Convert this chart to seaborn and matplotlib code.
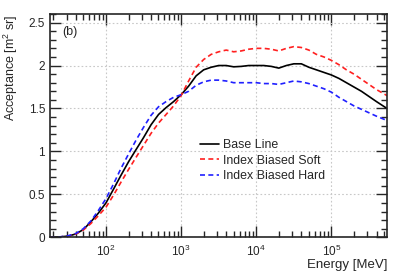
import matplotlib
matplotlib.use("Agg")
import matplotlib.pyplot as plt
import matplotlib.ticker as mticker
import seaborn as sns

# energies [MeV]
energy = [18, 25, 32, 40, 50, 63, 79, 100, 126, 158, 200, 251, 316, 398, 501,
          631, 794, 1000, 1259, 1585, 1995, 2512, 3162, 3981, 5012, 6310, 7943,
          10000, 12589, 15849, 19953, 25119, 31623, 39811, 50119, 63096, 79433,
          100000, 125893, 158489, 199526, 251189, 316228, 398107, 549541]

base_line = [0.0, 0.005, 0.015, 0.04, 0.09, 0.18, 0.28, 0.40, 0.56, 0.72, 0.88,
             1.02, 1.16, 1.31, 1.43, 1.51, 1.58, 1.66, 1.76, 1.88, 1.95, 1.98,
             2.00, 2.00, 1.985, 1.99, 2.00, 2.00, 2.00, 1.99, 1.97, 2.00, 2.02,
             2.02, 1.98, 1.95, 1.92, 1.89, 1.85, 1.80, 1.75, 1.70, 1.64, 1.58, 1.50]

biased_soft = [0.0, 0.005, 0.015, 0.04, 0.085, 0.16, 0.25, 0.35, 0.49, 0.64, 0.79,
               0.93, 1.07, 1.21, 1.33, 1.43, 1.53, 1.65, 1.82, 1.98, 2.07, 2.13,
               2.16, 2.18, 2.16, 2.17, 2.19, 2.20, 2.20, 2.19, 2.17, 2.20, 2.22,
               2.21, 2.18, 2.13, 2.10, 2.06, 2.01, 1.95, 1.90, 1.84, 1.78, 1.72, 1.65]

biased_hard = [0.0, 0.006, 0.02, 0.045, 0.10, 0.19, 0.31, 0.45, 0.62, 0.80, 0.97,
               1.13, 1.28, 1.42, 1.52, 1.58, 1.63, 1.66, 1.70, 1.77, 1.81, 1.83,
               1.83, 1.82, 1.80, 1.80, 1.80, 1.80, 1.79, 1.79, 1.78, 1.80, 1.82,
               1.81, 1.79, 1.76, 1.73, 1.69, 1.63, 1.58, 1.53, 1.49, 1.45, 1.41, 1.36]

sns.set_style("ticks")
plt.rcParams['font.family'] = ['Liberation Sans', 'DejaVu Sans']
plt.rcParams['mathtext.fontset'] = 'custom'
plt.rcParams['mathtext.rm'] = 'Liberation Sans'
plt.rcParams['mathtext.it'] = 'Liberation Sans:italic'

fig = plt.figure(figsize=(3.99, 2.73), dpi=100)
ax = fig.add_axes([0.1253, 0.1308, 0.8447, 0.8179])

# grid first so curves sit on top
ax.grid(True, which='major', color='#c8c8c8', linestyle=(0, (1.5, 2)), linewidth=0.8)

sns.lineplot(x=energy, y=base_line, color='black', linewidth=1.2, label='Base Line', ax=ax)
sns.lineplot(x=energy, y=biased_soft, color='#ff2020', linewidth=1.2,
             linestyle=(0, (3, 2)), label='Index Biased Soft', ax=ax)
sns.lineplot(x=energy, y=biased_hard, color='#2020ff', linewidth=1.2,
             linestyle=(0, (3, 2)), label='Index Biased Hard', ax=ax)

ax.set_xscale('log')
ax.set_xlim(18, 5.5e5)
ax.set_ylim(0, 2.6)

ax.yaxis.set_major_locator(mticker.MultipleLocator(0.5))
ax.yaxis.set_minor_locator(mticker.MultipleLocator(0.1))
ax.yaxis.set_major_formatter(mticker.FuncFormatter(lambda v, p: f"{v:g}"))
ax.xaxis.set_major_locator(mticker.LogLocator(base=10))
ax.xaxis.set_minor_locator(mticker.LogLocator(base=10, subs=range(2, 10)))
ax.xaxis.set_minor_formatter(mticker.NullFormatter())

ax.tick_params(which='both', direction='in', top=True, right=True, labelsize=8.5, width=1)
ax.tick_params(which='major', length=8)
ax.tick_params(which='minor', length=4)
ax.tick_params(axis='x', which='major', pad=5)
for s in ax.spines.values():
    s.set_linewidth(1.2)

ax.set_xlabel('Energy [MeV]', fontsize=9.5, loc='right')
ax.set_ylabel('Acceptance [m$^{2}$ sr]', fontsize=9, loc='top')
ax.xaxis.set_label_coords(1.0, -0.097)
ax.yaxis.set_label_coords(-0.089, 1.0)

ax.text(0.035, 0.92, '(b)', transform=ax.transAxes, fontsize=9, va='center')

ax.legend(loc='upper left', bbox_to_anchor=(0.43, 0.462), frameon=False, fontsize=8.9,
          handlelength=1.55, handletextpad=0.35, labelspacing=0.3, borderaxespad=0)

fig.savefig('out.png', dpi=100)
